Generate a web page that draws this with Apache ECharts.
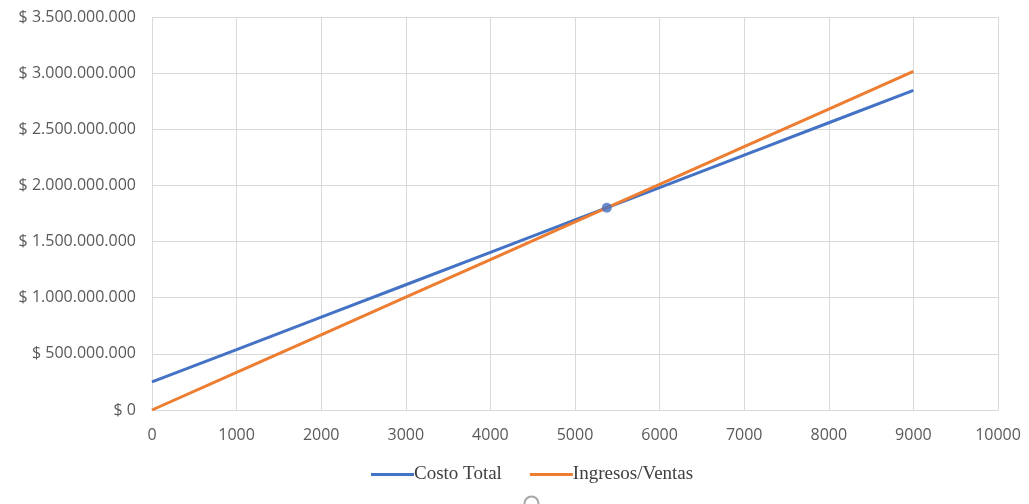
<!DOCTYPE html>
<html>
<head>
<meta charset="utf-8">
<script src="https://cdn.jsdelivr.net/npm/echarts@6/dist/echarts.min.js"></script>
<style>
  html, body { margin: 0; padding: 0; background: #ffffff; }
  #chart { width: 1029px; height: 504px; }
</style>
</head>
<body>
<div id="chart"></div>
<script>
// Units produced / sold
const quantities = [0, 1000, 2000, 3000, 4000, 5000, 6000, 7000, 8000, 9000];
// Total cost: fixed 250.000.000 plus 288.500 per unit
const costoTotal = [250000000, 538500000, 827000000, 1115500000, 1404000000, 1692500000, 1981000000, 2269500000, 2558000000, 2846500000];
// Revenue at 335.000 per unit
const ingresos = [0, 335000000, 670000000, 1005000000, 1340000000, 1675000000, 2010000000, 2345000000, 2680000000, 3015000000];
// Break-even point
const equilibrio = [5376, 1801000000];

const seriesNames = ['Costo Total', 'Ingresos/Ventas'];

function money(v) {
  return '$ ' + String(Math.round(v)).replace(/\B(?=(\d{3})+(?!\d))/g, '.');
}

const chart = echarts.init(document.getElementById('chart'));
chart.setOption({
  animation: false,
  grid: { left: 152, right: 31, top: 17, bottom: 94 },
  legend: {
    bottom: 15,
    left: 366,
    itemWidth: 43,
    itemHeight: 3,
    itemGap: 28,
    icon: 'rect',
    textStyle: { fontFamily: 'Liberation Serif', fontSize: 19, color: '#404040', padding: [0, 0, 0, -5] },
    data: seriesNames
  },
  // small rotation-handle ring peeking in at the bottom edge
  graphic: [{
    type: 'circle', left: 522, top: 494,
    shape: { r: 7 },
    style: { fill: 'none', stroke: '#a6a6a6', lineWidth: 2 }
  }],
  xAxis: {
    type: 'value',
    min: 0, max: 10000, interval: 1000,
    axisLine: { show: true, lineStyle: { color: '#d9d9d9', width: 1 } },
    axisTick: { show: false },
    splitLine: { show: true, lineStyle: { color: '#d9d9d9', width: 1 } },
    axisLabel: { color: '#595959', fontFamily: 'Open Sans', fontSize: 16, margin: 17, formatter: v => String(v) }
  },
  yAxis: {
    type: 'value',
    min: 0, max: 3500000000, interval: 500000000,
    axisLine: { show: false },
    axisTick: { show: false },
    splitLine: { show: true, lineStyle: { color: '#d9d9d9', width: 1 } },
    axisLabel: { color: '#595959', fontFamily: 'Open Sans', fontSize: 16, margin: 16, formatter: money }
  },
  series: [
    {
      name: seriesNames[0], type: 'line', showSymbol: false,
      data: quantities.map((q, i) => [q, costoTotal[i]]),
      lineStyle: { color: '#4472C4', width: 3 }, itemStyle: { color: '#4472C4' }, z: 2
    },
    {
      name: seriesNames[1], type: 'line', showSymbol: false,
      data: quantities.map((q, i) => [q, ingresos[i]]),
      lineStyle: { color: '#ED7D31', width: 3 }, itemStyle: { color: '#ED7D31' }, z: 3
    },
    {
      name: 'Punto de equilibrio', type: 'scatter',
      data: [equilibrio], symbolSize: 10,
      itemStyle: { color: '#4472C4' }, z: 5
    }
  ]
});
</script>
</body>
</html>
